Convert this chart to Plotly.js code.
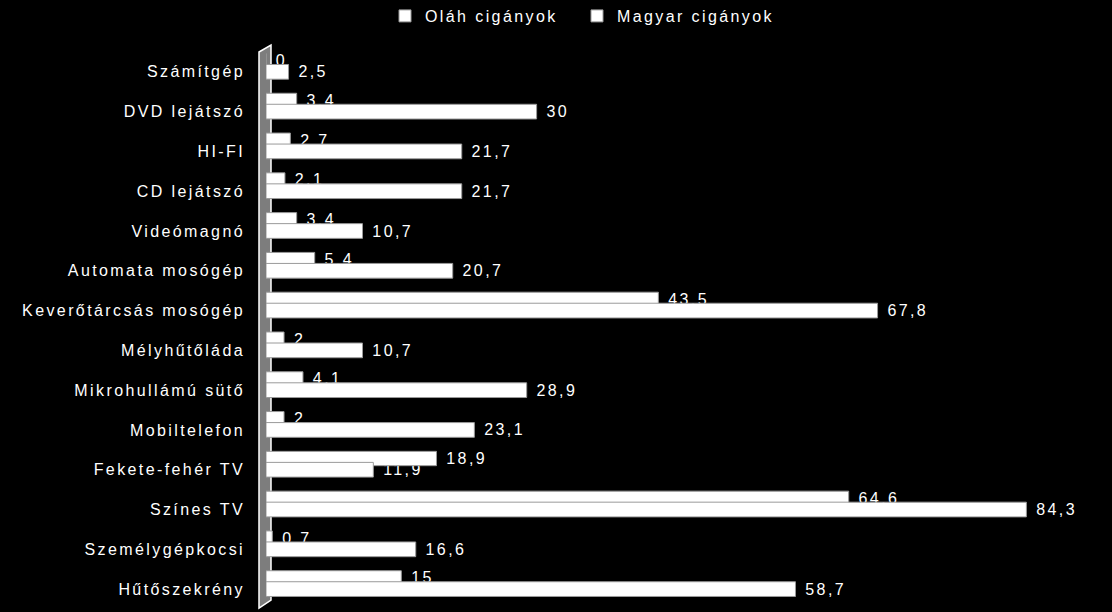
<!DOCTYPE html>
<html>
<head>
<meta charset="utf-8">
<script src="https://cdn.plot.ly/plotly-3.0.1.min.js"></script>
<style>
  html, body { margin: 0; padding: 0; background: #000; }
  #chart { width: 1112px; height: 612px; }
  text { letter-spacing: 2.4px; }
</style>
</head>
<body>
<div id="chart"></div>
<script>
var categories = ['Számítgép', 'DVD lejátszó', 'HI-FI', 'CD lejátszó', 'Videómagnó',
  'Automata mosógép', 'Keverőtárcsás mosógép', 'Mélyhűtőláda', 'Mikrohullámú sütő',
  'Mobiltelefon', 'Fekete-fehér TV', 'Színes TV', 'Személygépkocsi', 'Hűtőszekrény'];
var olah = [0, 3.4, 2.7, 2.1, 3.4, 5.4, 43.5, 2, 4.1, 2, 18.9, 64.6, 0.7, 15];
var magyar = [2.5, 30, 21.7, 21.7, 10.7, 20.7, 67.8, 10.7, 28.9, 23.1, 11.9, 84.3, 16.6, 58.7];
var seriesNames = ['Oláh cigányok', 'Magyar cigányok'];

function comma(v) { return String(v).replace('.', ','); }

// plot area in pixels, used to place the side wall and legends
var L = 266, T = 42, W = 834, H = 567;
function px(x) { return (x - L) / W; }
function py(y) { return (T + H - y) / H; }

var font = { family: 'Liberation Sans, Arial, sans-serif', size: 16, color: '#fff' };

var series = [
  { name: seriesNames[0], x: olah, offset: -0.462, width: 0.36, legend: 'legend' },
  { name: seriesNames[1], x: magyar, offset: -0.185, width: 0.37, legend: 'legend2' }
];

var data = [];
// labels first so that every bar is drawn over them
series.forEach(function (s) {
  data.push({
    type: 'bar', orientation: 'h', y: categories, x: s.x,
    offset: s.offset, width: s.width,
    text: s.x.map(comma), texttemplate: '\u00a0%{text}',
    textposition: 'outside', constraintext: 'none', cliponaxis: false,
    textfont: font, showlegend: false, hoverinfo: 'none',
    marker: { color: 'rgba(0,0,0,0)', line: { width: 0 } }
  });
});
series.forEach(function (s) {
  data.push({
    type: 'bar', orientation: 'h', y: categories, x: s.x, name: s.name,
    legend: s.legend, offset: s.offset, width: s.width, hoverinfo: 'none',
    marker: { color: '#fff', line: { color: '#9a9a9a', width: 1 } }
  });
});

var wall = 'M' + px(259) + ',' + py(52) + ' L' + px(271) + ',' + py(45) +
  ' L' + px(271) + ',' + py(600) + ' L' + px(259) + ',' + py(608) + ' Z';

function legendAt(x) {
  return {
    orientation: 'h', x: px(x), xanchor: 'left', y: py(16), yanchor: 'middle',
    font: font, bgcolor: 'rgba(0,0,0,0)'
  };
}

var layout = {
  width: 1112, height: 612,
  paper_bgcolor: '#000',
  plot_bgcolor: 'rgba(0,0,0,0)',
  font: font,
  barmode: 'overlay',
  margin: { l: L, r: 1112 - L - W, t: T, b: 612 - T - H, autoexpand: false },
  showlegend: true,
  legend: legendAt(385),
  legend2: legendAt(577),
  xaxis: { range: [0, W / 9.02], visible: false, showgrid: false, zeroline: false },
  yaxis: {
    range: [13.5, -0.75], showgrid: false, zeroline: false, showline: false,
    ticks: '', ticklabelstandoff: 20, tickfont: font
  },
  shapes: [{
    type: 'path', xref: 'paper', yref: 'paper', layer: 'below',
    path: wall, fillcolor: '#7d7d7d', line: { color: '#fff', width: 1.5 }
  }]
};

Plotly.newPlot('chart', data, layout, { displayModeBar: false, staticPlot: true });
</script>
</body>
</html>
